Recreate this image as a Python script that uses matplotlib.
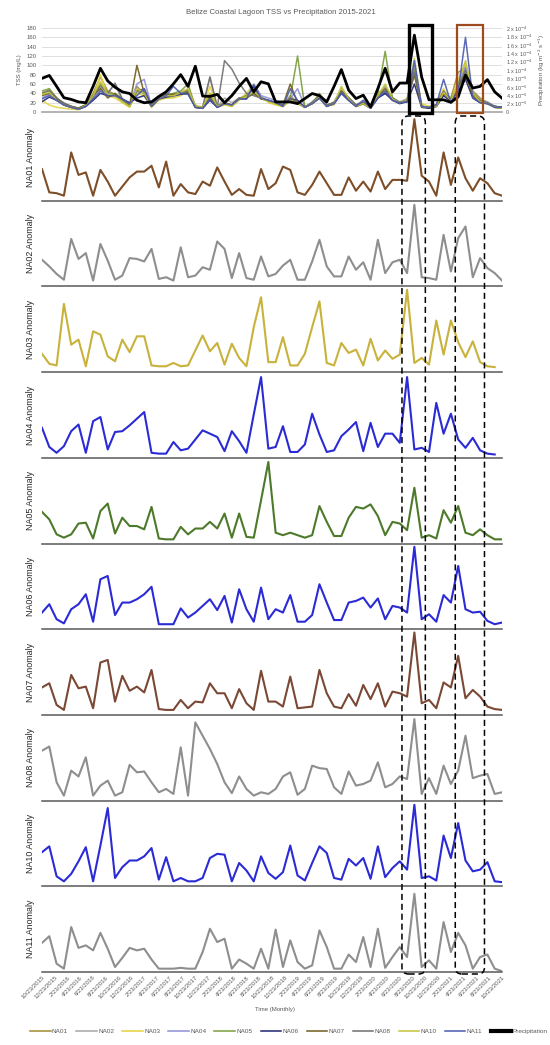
import numpy as np
import matplotlib
matplotlib.use("Agg")
import matplotlib.pyplot as plt
from matplotlib.patches import FancyBboxPatch, Rectangle

plt.rcParams['font.family'] = ['Liberation Sans', 'DejaVu Sans']

# monthly sample index (64 samples, Oct 2015 - Oct 2021)
months = np.arange(64)

# tick labels every two months
tick_labels = []
for yr in range(2015, 2022):
    for mo in (2, 4, 6, 8, 10, 12):
        if (yr == 2015 and mo < 10) or (yr == 2021 and mo > 10):
            continue
        tick_labels.append(f"{mo}/23/{yr}")

# --- top panel: TSS (mg/L) per station ---
tss_NA01 = [40, 48, 30, 15, 10, 8, 14, 40, 75, 45, 38, 22, 12, 55, 38, 12, 30, 38, 35, 42, 48, 10, 8, 40, 10, 18, 12, 28, 38, 45, 30, 24,
            18, 12, 35, 18, 10, 18, 40, 15, 18, 50, 30, 12, 18, 8, 38, 55, 28, 18, 28, 80, 12, 8, 12, 40, 30, 85, 95, 45, 30, 20, 10, 8]
tss_NA02 = [42, 45, 30, 20, 12, 8, 14, 35, 50, 40, 60, 25, 15, 40, 45, 15, 28, 30, 32, 40, 42, 12, 10, 75, 12, 30, 20, 30, 30, 40, 30, 25,
            20, 15, 35, 20, 10, 22, 35, 12, 22, 48, 30, 15, 25, 10, 38, 55, 30, 22, 28, 95, 12, 10, 15, 45, 25, 60, 100, 35, 25, 22, 12, 10]
tss_NA03 = [25, 15, 10, 8, 6, 5, 12, 30, 80, 35, 30, 20, 10, 40, 35, 10, 25, 30, 30, 35, 45, 15, 10, 55, 10, 15, 12, 25, 40, 60, 35, 20,
            15, 12, 25, 22, 10, 18, 30, 15, 15, 48, 28, 12, 18, 8, 30, 45, 25, 20, 25, 90, 18, 12, 15, 50, 22, 70, 105, 40, 20, 18, 10, 10]
tss_NA04 = [30, 38, 25, 15, 10, 7, 14, 30, 60, 38, 35, 25, 15, 60, 70, 12, 30, 35, 35, 38, 40, 12, 8, 30, 10, 20, 15, 30, 30, 60, 35, 30,
            25, 15, 28, 50, 12, 18, 30, 15, 18, 42, 28, 12, 18, 10, 30, 40, 28, 20, 22, 100, 12, 10, 12, 40, 25, 55, 95, 35, 22, 20, 12, 10]
tss_NA05 = [45, 50, 30, 18, 12, 8, 16, 35, 60, 42, 38, 25, 12, 45, 40, 15, 30, 35, 40, 45, 60, 12, 10, 35, 12, 18, 15, 28, 35, 40, 30, 25,
            18, 15, 30, 120, 10, 20, 35, 15, 20, 45, 30, 15, 20, 10, 40, 130, 30, 20, 25, 90, 12, 10, 12, 40, 28, 50, 85, 40, 25, 18, 12, 10]
tss_NA06 = [22, 32, 25, 15, 10, 6, 12, 25, 40, 35, 35, 28, 20, 30, 35, 12, 28, 32, 35, 38, 40, 10, 8, 25, 10, 18, 15, 28, 28, 55, 28, 25,
            20, 12, 28, 25, 10, 18, 30, 12, 18, 40, 25, 12, 18, 8, 30, 40, 25, 18, 22, 60, 10, 8, 12, 35, 22, 45, 70, 30, 20, 18, 12, 10]
tss_NA07 = [35, 40, 28, 18, 12, 8, 15, 35, 50, 30, 40, 28, 15, 100, 40, 15, 32, 38, 38, 40, 42, 10, 8, 30, 12, 20, 15, 30, 30, 40, 28, 25,
            20, 15, 60, 20, 10, 20, 30, 12, 20, 45, 30, 15, 20, 10, 35, 50, 30, 20, 25, 80, 12, 10, 15, 40, 25, 55, 80, 35, 22, 18, 10, 8]
tss_NA08 = [40, 45, 30, 18, 12, 8, 15, 35, 55, 40, 62, 28, 15, 45, 50, 15, 30, 35, 35, 40, 45, 12, 10, 75, 10, 110, 92, 62, 40, 35, 30, 25,
            20, 15, 30, 20, 10, 20, 35, 15, 20, 45, 30, 15, 20, 10, 35, 45, 30, 20, 25, 85, 12, 10, 15, 45, 25, 55, 90, 40, 25, 20, 12, 10]
tss_NA10 = [38, 42, 25, 15, 10, 6, 14, 35, 65, 38, 35, 22, 12, 50, 40, 12, 28, 35, 35, 42, 50, 12, 10, 40, 12, 18, 12, 28, 32, 45, 30, 22,
            18, 12, 25, 18, 10, 18, 32, 12, 18, 55, 28, 12, 18, 8, 35, 60, 28, 20, 25, 115, 12, 10, 12, 42, 25, 60, 110, 40, 22, 18, 10, 8]
tss_NA11 = [28, 35, 25, 15, 10, 6, 12, 28, 45, 35, 35, 28, 18, 35, 50, 12, 28, 35, 55, 40, 38, 10, 8, 28, 10, 18, 15, 28, 28, 58, 30, 25,
            20, 12, 50, 25, 10, 18, 30, 12, 18, 40, 25, 12, 25, 8, 30, 45, 25, 20, 22, 110, 12, 10, 15, 70, 20, 45, 160, 30, 20, 18, 10, 10]

# precipitation in units of 1e-5 kg m-2 s-1
precip = [8.0, 8.7, 6.1, 3.4, 3.0, 2.4, 2.2, 6.1, 10.4, 7.4, 5.9, 4.8, 4.4, 2.8, 2.2, 2.4, 3.7, 4.8, 6.7, 8.9, 6.1, 10.9, 3.8, 3.7,
          4.2, 2.2, 3.9, 6.1, 8.0, 4.8, 7.2, 6.7, 2.4, 2.4, 2.4, 2.0, 3.2, 4.4, 3.9, 2.4, 6.1, 10.1, 5.2, 3.2, 4.0, 1.2, 5.6, 10.4,
          4.8, 6.9, 6.9, 18.3, 8.3, 2.9, 2.9, 2.9, 2.3, 3.6, 8.8, 5.7, 6.1, 7.7, 4.8, 3.3]

# --- anomaly panels (relative units) ---
nan = np.nan
anom_NA01 = [38, 10, 9, 6, 58, 31, 34, 6, 37, 23, 6, 17, 28, 35, 35, 42, 16, 47, 6, 20, 10, 8, 23, 18, 40, 23, 7, 14, 7, 6, 38, 14,
             21, 41, 37, 10, 7, 19, 35, 21, 7, 7, 28, 12, 23, 11, 35, 14, 25, 25, 24, 98, 30, 23, 6, 58, 19, 52, 27, 12, 27, 21, 9, 6]
anom_NA02 = [32, 24, 15, 8, 57, 33, 40, 7, 51, 31, 8, 13, 34, 33, 30, 45, 9, 11, 7, 47, 11, 13, 23, 20, 54, 45, 10, 40, 10, 8, 36, 12,
             15, 25, 32, 8, 8, 30, 56, 24, 12, 12, 36, 20, 29, 8, 56, 16, 29, 32, 16, 98, 11, 10, 8, 62, 18, 58, 72, 11, 34, 22, 16, 7]
anom_NA03 = [22, 10, 8, 82, 33, 39, 7, 49, 45, 19, 13, 39, 24, 43, 43, 8, 7, 7, 11, 7, 8, 26, 44, 25, 35, 9, 34, 17, 7, 54, 90, 12,
             12, 42, 8, 8, 22, 54, 85, 11, 8, 35, 23, 27, 8, 40, 14, 26, 16, 21, 99, 11, 17, 9, 62, 21, 62, 36, 18, 37, 12, 7, 6, nan]
anom_NA04 = [36, 13, 6, 14, 32, 40, 6, 44, 49, 10, 31, 32, 39, 47, 55, 6, 5, 5, 19, 9, 11, 22, 33, 29, 25, 8, 32, 20, 6, 52, 97, 11,
             13, 38, 7, 7, 16, 53, 28, 7, 9, 26, 34, 43, 8, 42, 13, 29, 29, 18, 97, 10, 12, 7, 66, 29, 53, 22, 12, 24, 9, 5, 4, nan]
anom_NA05 = [38, 29, 11, 7, 11, 24, 25, 6, 39, 48, 12, 31, 21, 21, 17, 44, 6, 5, 5, 20, 11, 18, 18, 26, 18, 36, 7, 36, 8, 7, 52, 98,
             13, 10, 13, 10, 7, 10, 45, 26, 9, 9, 31, 44, 42, 47, 33, 10, 26, 24, 16, 67, 7, 10, 6, 40, 25, 45, 13, 10, 17, 10, 5, 5]
anom_NA06 = [20, 30, 12, 7, 24, 30, 42, 9, 60, 64, 17, 32, 32, 36, 42, 51, 6, 6, 6, 25, 14, 20, 28, 36, 23, 40, 8, 48, 24, 9, 50, 12,
             24, 20, 41, 9, 9, 17, 54, 32, 11, 11, 32, 34, 38, 26, 37, 12, 28, 26, 20, 99, 12, 18, 9, 41, 32, 76, 24, 20, 21, 10, 6, 8]
anom_NA07 = [33, 38, 12, 6, 48, 32, 34, 8, 63, 66, 16, 47, 29, 34, 27, 54, 7, 6, 6, 18, 8, 16, 15, 38, 26, 26, 8, 31, 14, 6, 53, 16,
             16, 10, 46, 8, 9, 10, 54, 26, 10, 8, 25, 11, 36, 19, 38, 10, 28, 26, 22, 99, 14, 18, 8, 39, 33, 71, 20, 30, 22, 10, 7, 6]
anom_NA08 = [60, 65, 22, 6, 36, 29, 52, 6, 18, 24, 6, 10, 43, 34, 35, 22, 10, 14, 8, 64, 6, 94, 78, 62, 44, 22, 9, 29, 14, 6, 10, 8,
             14, 29, 34, 7, 14, 42, 39, 38, 16, 8, 35, 18, 20, 24, 46, 16, 20, 29, 26, 98, 8, 27, 8, 42, 20, 36, 78, 27, 30, 32, 8, 10]
anom_NA10 = [41, 48, 12, 6, 15, 30, 47, 6, 49, 94, 10, 23, 31, 31, 36, 46, 8, 35, 6, 10, 6, 6, 10, 34, 39, 38, 6, 28, 19, 6, 36, 16,
             9, 17, 49, 13, 7, 28, 48, 40, 10, 8, 33, 25, 34, 9, 48, 11, 22, 30, 20, 98, 10, 12, 7, 61, 34, 76, 31, 18, 20, 29, 6, 5]
anom_NA11 = [35, 43, 10, 4, 54, 29, 32, 26, 47, 28, 6, 17, 29, 26, 28, 15, 4, 4, 4, 5, 4, 4, 24, 52, 36, 40, 4, 15, 10, 4, 28, 4,
             51, 6, 38, 12, 4, 8, 50, 30, 4, 4, 21, 12, 42, 6, 52, 5, 18, 30, 18, 94, 6, 14, 4, 60, 24, 47, 32, 4, 18, 21, 4, 1]

stations = ["NA01", "NA02", "NA03", "NA04", "NA05", "NA06", "NA07", "NA08", "NA10", "NA11"]
tss_all = [tss_NA01, tss_NA02, tss_NA03, tss_NA04, tss_NA05, tss_NA06, tss_NA07, tss_NA08, tss_NA10, tss_NA11]
anom_all = [anom_NA01, anom_NA02, anom_NA03, anom_NA04, anom_NA05, anom_NA06, anom_NA07, anom_NA08, anom_NA10, anom_NA11]

# colours
tss_colors = ['#a08a2e', '#a6a6a6', '#e3d23c', '#8f8fd8', '#7a9c3a', '#1f2470', '#6f5c1c', '#6e6e6e', '#c4c43a', '#4a5ab0']
anom_colors = ['#7d4e28', '#8e8e8e', '#c9b23c', '#2b2bd6', '#4d7a2a', '#2b2bd6', '#7a4834', '#8e8e8e', '#2b2bd6', '#8e8e8e']

# highlighted windows (sample index ranges)
top_boxes = [(50.2, 53.4, 'black', 2.4), (56.9, 60.4, '#9e4b1e', 1.6)]
dash_boxes = [(49.3, 52.5), (56.6, 60.6)]

W, H = 550, 1045
fig = plt.figure(figsize=(W / 100, H / 100), dpi=100)
gray_txt = '#595959'

def px_axes(x0, y0, x1, y1):
    return fig.add_axes([x0 / W, 1 - y1 / H, (x1 - x0) / W, (y1 - y0) / H])

# ---------- top panel ----------
ax0 = px_axes(42, 28, 502, 112)
lines = []
for name, vals, col in zip(stations, tss_all, tss_colors):
    ln, = ax0.plot(months, vals, color=col, lw=1.1, alpha=0.9, label=name)
    lines.append(ln)
ax0.set_xlim(0, 63)
ax0.set_ylim(0, 180)
ax0.set_yticks(np.arange(0, 181, 20))
ax0.tick_params(axis='y', labelsize=4.3, colors=gray_txt, length=0, pad=4)
ax0.set_xticks([])
ax0.grid(axis='y', color='#d9d9d9', lw=0.6)
ax0.set_axisbelow(True)
for s in ['top', 'right', 'left']:
    ax0.spines[s].set_visible(False)
ax0.spines['bottom'].set_color('#a6a6a6')
ax0.spines['bottom'].set_linewidth(1.2)
ax0.set_ylabel("TSS (mg/L)", fontsize=4.3, color=gray_txt, labelpad=3)

ax0r = ax0.twinx()
pl, = ax0r.plot(months, precip, color='black', lw=2.0, label='Precipitation')
lines.append(pl)
ax0r.set_ylim(0, 20)
rt = np.arange(0, 21, 2)
rlab = ["0"] + [f"{v} x 10$^{{-5}}$" for v in (2, 4, 6, 8)] + ["1 x 10$^{-4}$", "1.2 x 10$^{-4}$", "1.4 x 10$^{-4}$",
                                                                 "1.6 x 10$^{-4}$", "1.8 x 10$^{-4}$", "2 x 10$^{-4}$"]
ax0r.set_yticks(rt)
ax0r.set_yticklabels(rlab)
ax0r.tick_params(axis='y', labelsize=3.9, colors=gray_txt, length=0, pad=3)
for s in ax0r.spines.values():
    s.set_visible(False)
ax0r.set_ylabel("Precipitation (kg m$^{-2}$ s$^{-1}$)", fontsize=4.4, color=gray_txt, labelpad=3)

for x0, x1, col, lw in top_boxes:
    ax0r.add_patch(Rectangle((x0, -0.2), x1 - x0, 20.8, fill=False, edgecolor=col, lw=lw, clip_on=False, zorder=5))

fig.text(0.51, 1 - 13 / H, "Belize Coastal Lagoon TSS vs Precipitation 2015-2021", ha='center', va='center',
         fontsize=5.6, color=gray_txt)

# ---------- anomaly panels ----------
top, bottom = 115, 972
step = (bottom - top) / len(stations)
axes = []
for k, (name, vals, col) in enumerate(zip(stations, anom_all, anom_colors)):
    ax = px_axes(42, top + k * step, 502, top + (k + 1) * step)
    ax.plot(months, vals, color=col, lw=1.5)
    ax.set_xlim(0, 63)
    ax.set_ylim(0, 103)
    ax.set_yticks([])
    ax.set_xticks([])
    for s in ['top', 'right', 'left']:
        ax.spines[s].set_visible(False)
    ax.spines['bottom'].set_color('#595959')
    ax.spines['bottom'].set_linewidth(1.1)
    ax.patch.set_alpha(0)
    ax.set_ylabel(f"{name} Anomaly", fontsize=6.4, color='#262626', labelpad=5)
    axes.append(ax)

axl = axes[-1]
tick_pos = np.linspace(0, 63, len(tick_labels))
axl.set_xticks(tick_pos)
axl.set_xticklabels(tick_labels, rotation=45, ha='right', rotation_mode='anchor', fontsize=4.3, color=gray_txt)
axl.tick_params(axis='x', length=0, pad=2)
fig.text(0.5, 1 - 1010 / H, "Time (Monthly)", ha='center', va='center', fontsize=4.3, color=gray_txt)

# dashed rounded boxes across the anomaly panels
for x0, x1 in dash_boxes:
    fx0 = fig.transFigure.inverted().transform(axl.transData.transform((x0, 0)))[0]
    fx1 = fig.transFigure.inverted().transform(axl.transData.transform((x1, 0)))[0]
    fy0 = 1 - 974 / H
    fy1 = 1 - 116 / H
    fig.add_artist(FancyBboxPatch((fx0, fy0), fx1 - fx0, fy1 - fy0,
                                  boxstyle="round,pad=0,rounding_size=0.012", mutation_aspect=W / H,
                                  fill=False, edgecolor='black', lw=1.1, linestyle=(0, (4, 2.5)),
                                  transform=fig.transFigure, zorder=10))

leg = fig.legend(handles=lines, loc='center', bbox_to_anchor=(0.525, 1 - 1031 / H), ncol=11, frameon=False,
                 fontsize=4.6, handlelength=3.2, handletextpad=0.2, columnspacing=1.3)
for t in leg.get_texts():
    t.set_color(gray_txt)
for h in leg.legend_handles:
    h.set_alpha(1)
leg.legend_handles[-1].set_linewidth(3)

fig.savefig("out.png", dpi=100)
